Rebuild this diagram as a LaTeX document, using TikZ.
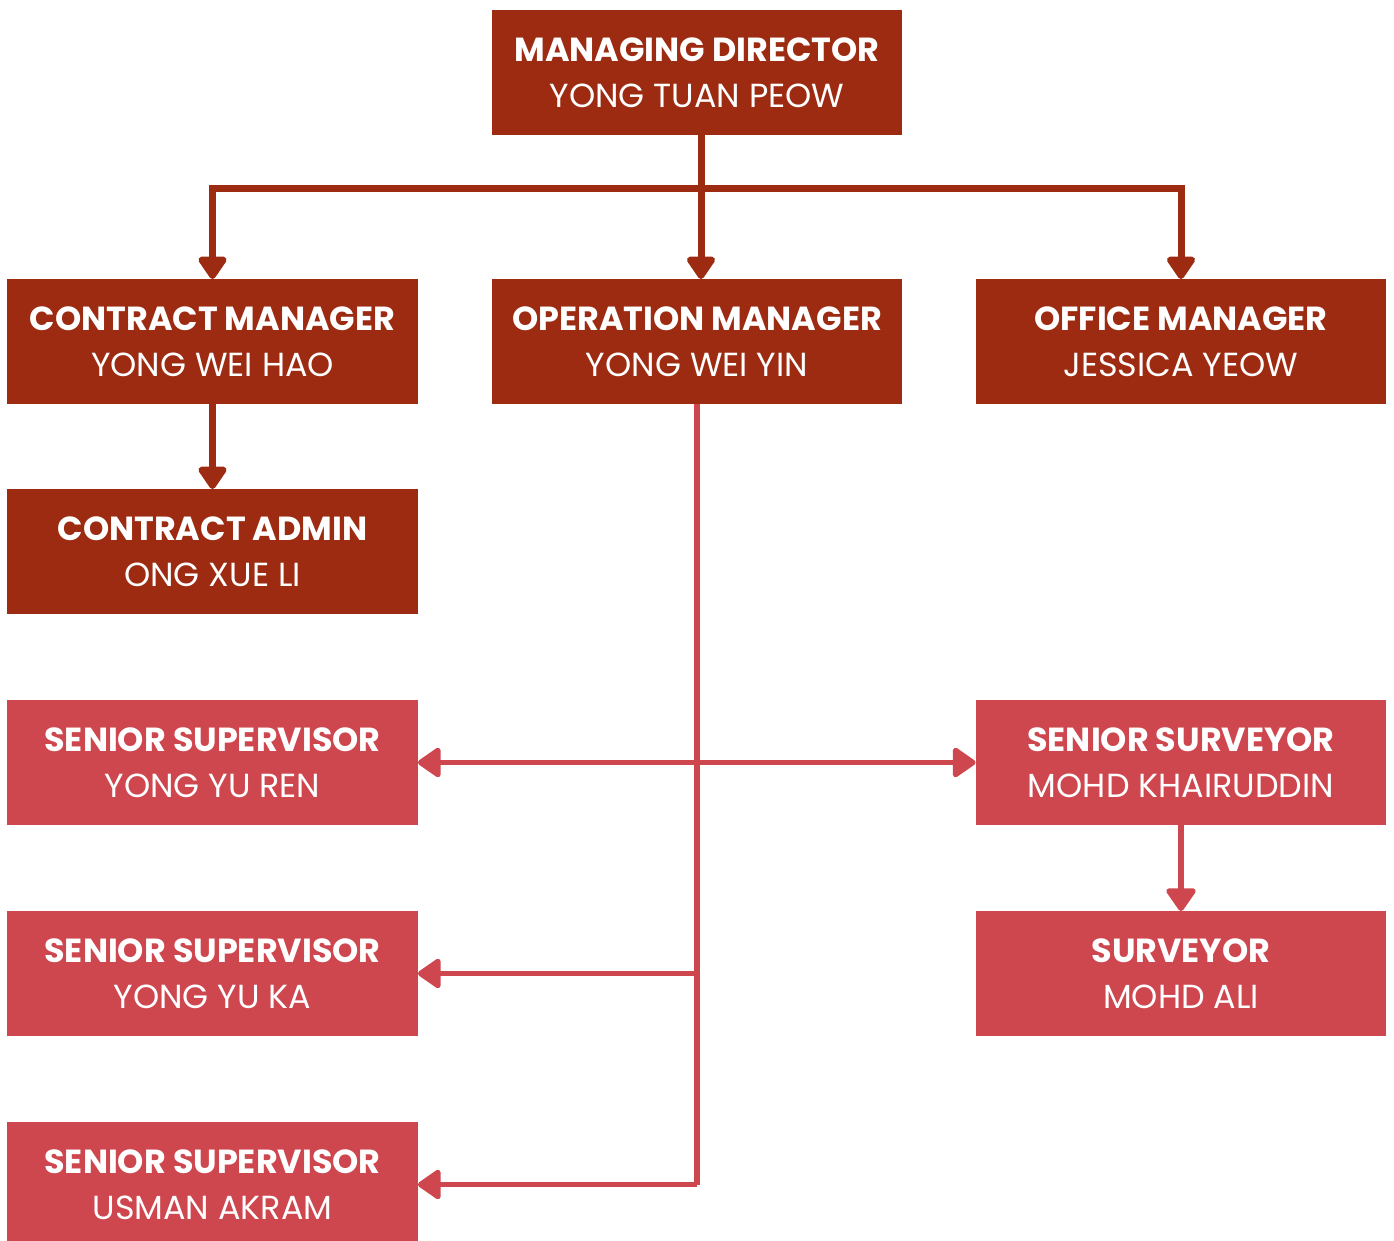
\documentclass[tikz,border=0pt]{standalone}
\usepackage{fontspec}
\setmainfont{Poppins}
\usetikzlibrary{arrows.meta}
\definecolor{darkbrick}{HTML}{9C2B11}
\definecolor{lightbrick}{HTML}{CE464E}
\begin{document}
\begin{tikzpicture}
  [x=0.02cm,y=-0.02cm,
  topbox/.style={rectangle,fill=darkbrick,text=white,align=center,
                  outer sep=0,minimum width=8.22cm,minimum height=2.5cm,
                  font=\fontsize{19}{26}\selectfont},
  opbox/.style={rectangle,fill=lightbrick,text=white,align=center,
                  outer sep=0,minimum width=8.22cm,minimum height=2.5cm,
                  font=\fontsize{19}{26}\selectfont},
  darkline/.style={draw=darkbrick,line width=0.14cm},
  darkarrow/.style={darkline,-{Triangle[length=0.5cm,width=0.64cm,round]}},
  lightline/.style={draw=lightbrick,line width=0.11cm},
  lightarrow/.style={lightline,-{Triangle[length=0.5cm,width=0.66cm,round]}},
  lightboth/.style={lightline,{Triangle[length=0.5cm,width=0.66cm,round]}-{Triangle[length=0.5cm,width=0.66cm,round]}}
                  ]
  \useasboundingbox (0,0) rectangle (1394,1241);

  \node[topbox] (md) at (697,72.5) {\textbf{MANAGING DIRECTOR}\\YONG TUAN PEOW};
  \node[topbox] (cm) at (212.5,341.5) {\textbf{CONTRACT MANAGER}\\YONG WEI HAO};
  \node[topbox] (om) at (697,341.5) {\textbf{OPERATION MANAGER}\\YONG WEI YIN};
  \node[topbox] (ofm) at (1181,341.5) {\textbf{OFFICE MANAGER}\\JESSICA YEOW};
  \node[topbox] (ca) at (212.5,551.5) {\textbf{CONTRACT ADMIN}\\ONG XUE LI};
  \node[opbox] (ss1) at (212.5,762.5) {\textbf{SENIOR SUPERVISOR}\\YONG YU REN};
  \node[opbox] (ssv) at (1181,762.5) {\textbf{SENIOR SURVEYOR}\\MOHD KHAIRUDDIN};
  \node[opbox] (ss2) at (212.5,973.5) {\textbf{SENIOR SUPERVISOR}\\YONG YU KA};
  \node[opbox] (sv) at (1181,973.5) {\textbf{SURVEYOR}\\MOHD ALI};
  \node[opbox] (ss3) at (212.5,1184.5) {\textbf{SENIOR SUPERVISOR}\\USMAN AKRAM};
  \coordinate (bus) at (701,188);
  \coordinate (opstem) at (697,404);

  \draw[darkline] (md.south -| bus) to (bus);
  \draw[darkarrow] (bus) -| (cm.north);
  \draw[darkarrow] (bus) -| (ofm.north);
  \draw[darkarrow] (bus) to (om.north -| bus);
  \draw[darkarrow] (cm.south) to (ca.north);
  \draw[lightline] (opstem) to (opstem |- ss3.east);
  \draw[lightarrow] (opstem |- ss3.east) to (ss3.east);
  \draw[lightarrow] (opstem |- ss2.east) to (ss2.east);
  \draw[lightboth] (ss1.east) to (ssv.west);
  \draw[lightarrow] (ssv.south) to (sv.north);
\end{tikzpicture}
\end{document}
